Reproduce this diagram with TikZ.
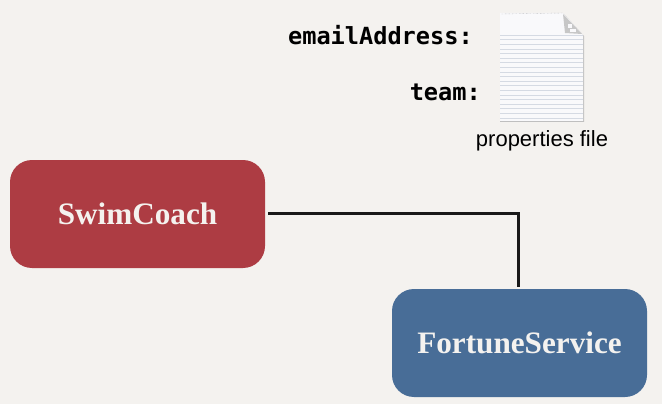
\documentclass[tikz,border=0pt]{standalone}
\usepackage{fontspec}
\setmainfont{Liberation Sans}
\newfontfamily\labelfont{Liberation Serif}
\newfontfamily\keyfont{DejaVu Sans Mono}
\usetikzlibrary{calc}

\definecolor{paper}{HTML}{F4F2EF}
\definecolor{coachred}{HTML}{AD3C43}
\definecolor{serviceblue}{HTML}{486D97}
\definecolor{ruleline}{HTML}{D5DAE3}
\definecolor{sheet}{HTML}{F9F9FB}

\tikzset{
  bean/.style={rounded corners=22pt,minimum width=255pt,minimum height=108pt,inner sep=0pt,
    text=paper,font=\labelfont\bfseries\fontsize{31.2}{31.2}\selectfont},
  wire/.style={line width=3pt,black!90,line join=miter},
  key/.style={anchor=east,inner sep=0pt,font=\keyfont\bfseries\fontsize{23.6}{23.6}\selectfont}
}

\begin{document}
\begin{tikzpicture}[x=1pt,y=-1pt]
  \useasboundingbox (0,0) rectangle (662,404);
  \fill[paper] (0,0) rectangle (662,404);

  % file icon
  \coordinate (fold) at (563,13);
  \fill[black!25] (500,14) -- (564,14) -- (584,36) -- (584,122) -- (500,122) -- cycle;
  \fill[sheet] (500,13) -- (fold) -- (583,35) -- (583,121) -- (500,121) -- cycle;
  \foreach \y in {35,39.6,...,119} {
    \draw[ruleline,very thin] (500,\y) -- (583,\y);
  }
  \fill[black!22] (563,14) -- (582,34) -- (565,33) -- cycle;
  \fill[sheet] (568,24) rectangle (572,28);
  \fill[sheet] (570,29) rectangle (576,32);
  \draw[black!35,densely dotted] (501,14) -- (fold);

  \node[key] (email) at (473,35) {emailAddress:};
  \node[key] (team) at (481,92) {team:};
  \node[inner sep=0pt,font=\fontsize{22}{22}\selectfont] (props) at (542,141) {properties file};

  \node[bean,fill=coachred] (coach) at (137.5,214) {SwimCoach};
  \node[bean,fill=serviceblue] (fortune) at (519.5,343) {FortuneService};

  \draw[wire,shorten <=3pt,shorten >=2pt] ([yshift=1pt]coach.east) -| ([xshift=-1.5pt]fortune.north);
\end{tikzpicture}
\end{document}
